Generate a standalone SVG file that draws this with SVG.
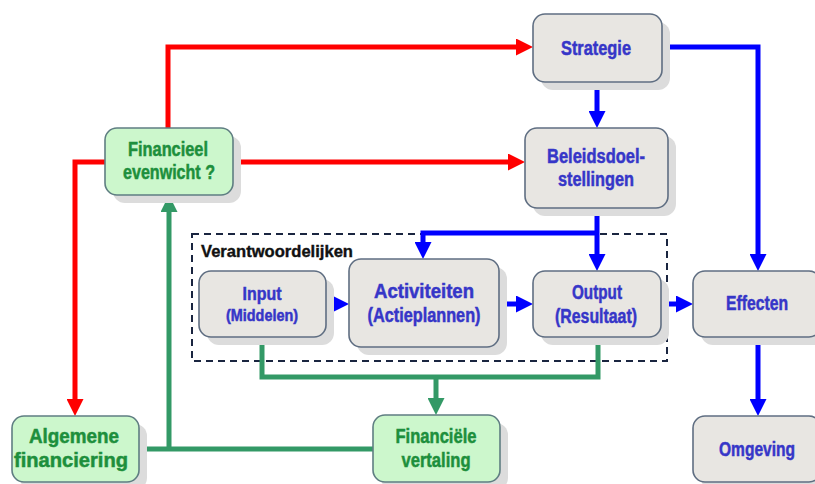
<svg xmlns="http://www.w3.org/2000/svg" width="815" height="484" viewBox="0 0 815 484">
<defs>
<style>
.g{fill:#e8e6e2;stroke:#5f6e82;stroke-width:1.6}
.gr{fill:#ccf7cc;stroke:#5f7e82;stroke-width:1.6}
.sh{fill:#dcdcdc}
.tb{fill:#3636c8;stroke:#3636c8;stroke-width:0.5;font-family:"Liberation Sans",Arial,sans-serif;font-weight:bold;font-size:20px;text-anchor:middle}
.tg{fill:#1d8f3c;stroke:#1d8f3c;stroke-width:0.5;font-family:"Liberation Sans",Arial,sans-serif;font-weight:bold;font-size:20px;text-anchor:middle}
.red{stroke:#ff0000;stroke-width:5;fill:none}
.blue{stroke:#0000ff;stroke-width:5;fill:none}
.grn{stroke:#339966;stroke-width:5;fill:none}
</style>
<marker id="ar" viewBox="0 0 10 10" refX="5" refY="5" markerWidth="3.4" markerHeight="3.4" orient="auto" markerUnits="strokeWidth"><path d="M0,0 L10,5 L0,10 z" fill="#ff0000"/></marker>
<marker id="ab" viewBox="0 0 10 10" refX="5" refY="5" markerWidth="3.4" markerHeight="3.4" orient="auto" markerUnits="strokeWidth"><path d="M0,0 L10,5 L0,10 z" fill="#0000ff"/></marker>
<marker id="ag" viewBox="0 0 10 10" refX="5" refY="5" markerWidth="3.4" markerHeight="3.4" orient="auto" markerUnits="strokeWidth"><path d="M0,0 L10,5 L0,10 z" fill="#339966"/></marker>
</defs>
<rect width="815" height="484" fill="#ffffff"/>

<g id="verantwoordelijken">
<rect x="192" y="234" width="475" height="127" fill="none" stroke="#1a2540" stroke-width="2" stroke-dasharray="7,5"/>
<text x="201" y="257" font-family="Liberation Sans,Arial,sans-serif" font-weight="bold" font-size="17" fill="#111" stroke="#111" stroke-width="0.4" textLength="152" lengthAdjust="spacingAndGlyphs">Verantwoordelijken</text>
</g>

<g id="connectors">
<path class="red" d="M168,128 V47 H524.5" marker-end="url(#ar)"/>
<path class="red" d="M233,162 H516.5" marker-end="url(#ar)"/>
<path class="red" d="M105,162 H75 V407.5" marker-end="url(#ar)"/>
<path class="blue" d="M597,82 V119.5" marker-end="url(#ab)"/>
<path class="blue" d="M662,47 H758 V262.5" marker-end="url(#ab)"/>
<path class="blue" d="M597,208 V262.5" marker-end="url(#ab)"/>
<path class="blue" d="M597,233 H423 V250.5" marker-end="url(#ab)"/>
<path class="blue" d="M326,304 H340.5" marker-end="url(#ab)"/>
<path class="blue" d="M499,304 H524.5" marker-end="url(#ab)"/>
<path class="blue" d="M661,304 H684.5" marker-end="url(#ab)"/>
<path class="blue" d="M758,337 V407.5" marker-end="url(#ab)"/>
<path class="grn" d="M262,337 V377 H598 V337"/>
<path class="grn" d="M436,377 V406.5" marker-end="url(#ag)"/>
<path class="grn" d="M139,449 H373"/>
<path class="grn" d="M169,449 V203.5" marker-end="url(#ag)"/>
</g>

<g id="strategie">
<rect class="sh" x="541" y="22" width="129" height="68" rx="12"/>
<rect class="g" x="533" y="14" width="129" height="68" rx="12"/>
<text class="tb" x="596" y="55" textLength="70" lengthAdjust="spacingAndGlyphs">Strategie</text>
</g>
<g id="beleidsdoelstellingen">
<rect class="sh" x="533" y="136" width="143" height="80" rx="12"/>
<rect class="g" x="525" y="128" width="143" height="80" rx="12"/>
<text class="tb" x="596" y="163" textLength="98" lengthAdjust="spacingAndGlyphs">Beleidsdoel-</text>
<text class="tb" x="596" y="186" textLength="76" lengthAdjust="spacingAndGlyphs">stellingen</text>
</g>
<g id="financieel">
<rect class="sh" x="113" y="136" width="128" height="67" rx="12"/>
<rect class="gr" x="105" y="128" width="128" height="67" rx="12"/>
<text class="tg" x="168" y="156" textLength="80" lengthAdjust="spacingAndGlyphs">Financieel</text>
<text class="tg" x="169" y="179" textLength="92" lengthAdjust="spacingAndGlyphs">evenwicht ?</text>
</g>
<g id="input">
<rect class="sh" x="207" y="279" width="127" height="66" rx="12"/>
<rect class="g" x="199" y="271" width="127" height="66" rx="12"/>
<text class="tb" x="262" y="300" style="font-size:19px" textLength="39" lengthAdjust="spacingAndGlyphs">Input</text>
<text class="tb" x="262" y="321" style="font-size:16px" textLength="72" lengthAdjust="spacingAndGlyphs">(Middelen)</text>
</g>
<g id="activiteiten">
<rect class="sh" x="357" y="267" width="150" height="88" rx="12"/>
<rect class="g" x="349" y="259" width="150" height="88" rx="12"/>
<text class="tb" x="424" y="298" textLength="100" lengthAdjust="spacingAndGlyphs">Activiteiten</text>
<text class="tb" x="424" y="322" textLength="113" lengthAdjust="spacingAndGlyphs">(Actieplannen)</text>
</g>
<g id="output">
<rect class="sh" x="541" y="279" width="128" height="66" rx="12"/>
<rect class="g" x="533" y="271" width="128" height="66" rx="12"/>
<text class="tb" x="597" y="299" textLength="50" lengthAdjust="spacingAndGlyphs">Output</text>
<text class="tb" x="596" y="323" textLength="82" lengthAdjust="spacingAndGlyphs">(Resultaat)</text>
</g>
<g id="effecten">
<rect class="sh" x="701" y="279" width="128" height="66" rx="12"/>
<rect class="g" x="693" y="271" width="128" height="66" rx="12"/>
<text class="tb" x="757" y="310" textLength="62" lengthAdjust="spacingAndGlyphs">Effecten</text>
</g>
<g id="omgeving">
<rect class="sh" x="701" y="424" width="128" height="66" rx="12"/>
<rect class="g" x="693" y="416" width="128" height="66" rx="12"/>
<text class="tb" x="757" y="456" textLength="76" lengthAdjust="spacingAndGlyphs">Omgeving</text>
</g>
<g id="algemene">
<rect class="sh" x="20" y="424" width="127" height="66" rx="12"/>
<rect class="gr" x="12" y="416" width="127" height="66" rx="12"/>
<text class="tg" x="74" y="443" textLength="90" lengthAdjust="spacingAndGlyphs">Algemene</text>
<text class="tg" x="71" y="467" textLength="114" lengthAdjust="spacingAndGlyphs">financiering</text>
</g>
<g id="financiele">
<rect class="sh" x="381" y="423" width="127" height="67" rx="12"/>
<rect class="gr" x="373" y="415" width="127" height="67" rx="12"/>
<text class="tg" x="436" y="443" textLength="81" lengthAdjust="spacingAndGlyphs">Financiële</text>
<text class="tg" x="436" y="467" textLength="69" lengthAdjust="spacingAndGlyphs">vertaling</text>
</g>
</svg>
